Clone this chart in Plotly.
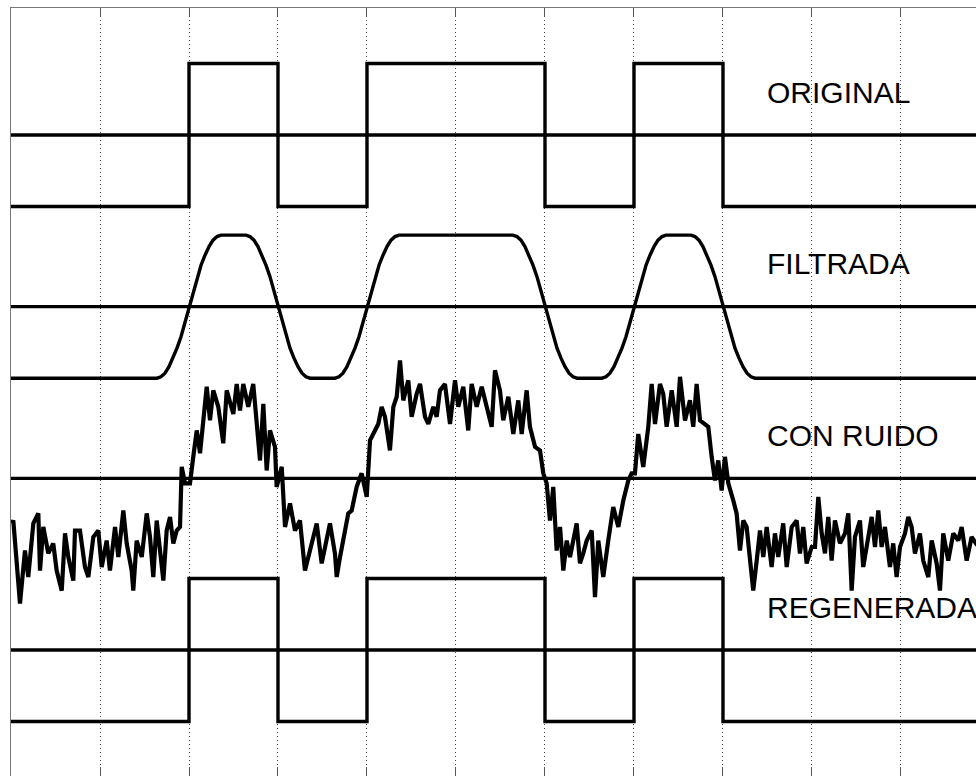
import plotly.graph_objects as go

# Transmitted bit sequence (one bit per grid division)
bits = [0, 0, 1, 0, 1, 1, 0, 1, 0, 0, 0]
regen_bits = [0, 0, 1, 0, 1, 1, 0, 1, 0, 0, 0]

# Vertical offsets of the four stacked traces
base_original = 3.6
base_filtered = 1.2
base_noisy = -1.2
base_regen = -3.6

labels = ["ORIGINAL", "FILTRADA", "CON RUIDO", "REGENERADA"]
label_x = 8.47
label_dy = 0.6

# Shape of one filtered transition: time offset from the bit edge (in bits)
# and fraction of the swing completed
edge_dt = [-0.36, -0.315, -0.27, -0.225, -0.18, -0.135, -0.09, -0.045, 0.0,
           0.045, 0.09, 0.135, 0.18, 0.225, 0.27, 0.315, 0.36]
edge_p = [0.0, 0.01, 0.035, 0.08, 0.14, 0.21, 0.29, 0.39, 0.5,
          0.61, 0.71, 0.79, 0.86, 0.92, 0.965, 0.99, 1.0]

# Received (noisy) signal, relative to its baseline: time in bits, amplitude
noisy_t = [
    0.008, 0.026, 0.101, 0.157, 0.194, 0.251, 0.307, 0.326, 0.363, 0.419,
    0.475, 0.513, 0.570, 0.607, 0.644, 0.700, 0.719, 0.775, 0.831, 0.869,
    0.925, 0.981, 1.019, 1.075, 1.112, 1.169, 1.206, 1.262, 1.300, 1.356,
    1.374, 1.412, 1.469, 1.525, 1.562, 1.599, 1.637, 1.674, 1.712, 1.749,
    1.787, 1.824, 1.862, 1.899, 1.918, 1.955, 2.011, 2.048, 2.087, 2.124,
    2.161, 2.199, 2.236, 2.273, 2.329, 2.385, 2.424, 2.498, 2.536, 2.573,
    2.610, 2.666, 2.722, 2.761, 2.798, 2.835, 2.873, 2.910, 2.966, 2.985,
    3.042, 3.079, 3.135, 3.191, 3.247, 3.303, 3.360, 3.435, 3.491, 3.547,
    3.584, 3.640, 3.660, 3.697, 3.753, 3.790, 3.828, 3.884, 3.940, 3.997,
    4.034, 4.071, 4.127, 4.165, 4.202, 4.258, 4.296, 4.334, 4.371, 4.408,
    4.464, 4.502, 4.558, 4.596, 4.652, 4.689, 4.745, 4.783, 4.820, 4.876,
    4.933, 4.989, 5.026, 5.082, 5.138, 5.176, 5.233, 5.289, 5.345, 5.401,
    5.438, 5.494, 5.531, 5.588, 5.644, 5.700, 5.738, 5.794, 5.831, 5.888,
    5.944, 5.981, 6.019, 6.056, 6.093, 6.131, 6.169, 6.206, 6.244, 6.281,
    6.356, 6.393, 6.430, 6.469, 6.525, 6.562, 6.599, 6.655, 6.711, 6.767,
    6.824, 6.880, 6.936, 6.974, 7.011, 7.048, 7.104, 7.161, 7.199, 7.236,
    7.292, 7.329, 7.367, 7.424, 7.480, 7.517, 7.573, 7.629, 7.666, 7.704,
    7.742, 7.798, 7.835, 7.873, 7.910, 7.947, 7.985, 8.022, 8.060, 8.116,
    8.153, 8.191, 8.228, 8.266, 8.303, 8.340, 8.379, 8.416, 8.453, 8.491,
    8.547, 8.584, 8.621, 8.677, 8.716, 8.772, 8.828, 8.865, 8.902, 8.940,
    8.997, 9.034, 9.071, 9.109, 9.146, 9.183, 9.221, 9.258, 9.315, 9.371,
    9.408, 9.446, 9.483, 9.539, 9.576, 9.633, 9.671, 9.708, 9.745, 9.783,
    9.820, 9.876, 9.913, 9.951, 9.989, 10.045, 10.082, 10.120, 10.157, 10.213,
    10.250, 10.307, 10.345, 10.401, 10.438, 10.475, 10.531, 10.588, 10.644, 10.682,
    10.738, 10.794, 10.843, 10.900,
]
noisy_v = [
    -0.63, -0.59, -1.75, -1.01, -1.38, -0.63, -0.49, -1.29, -0.68, -1.05,
    -0.91, -1.29, -1.57, -0.77, -1.10, -1.43, -0.73, -0.73, -1.24, -1.38,
    -0.82, -0.73, -1.24, -0.87, -1.29, -0.68, -1.10, -0.45, -0.91, -1.29,
    -1.57, -0.87, -1.10, -0.49, -0.82, -1.38, -0.59, -1.05, -1.43, -0.73,
    -0.54, -0.91, -0.73, -0.68, 0.16, -0.07, -0.07, 0.30, 0.67, 0.35,
    0.81, 1.28, 0.81, 1.23, 1.00, 0.49, 1.23, 0.90, 1.32, 0.95,
    1.32, 1.00, 1.32, 0.81, 0.25, 1.04, 0.11, 0.67, 0.44, -0.12,
    0.16, -0.68, -0.35, -0.73, -0.59, -1.29, -1.01, -0.63, -1.19, -0.82,
    -0.63, -1.05, -1.38, -1.10, -0.68, -0.49, -0.45, -0.12, 0.07, -0.26,
    0.53, 0.62, 0.76, 1.00, 0.86, 0.39, 1.00, 1.14, 1.65, 1.09,
    1.37, 0.86, 1.18, 1.32, 0.86, 0.76, 1.00, 0.86, 1.23, 1.32,
    0.76, 1.37, 1.00, 1.28, 0.67, 1.32, 1.00, 1.28, 1.00, 0.72,
    1.51, 1.23, 0.81, 1.14, 0.62, 1.09, 0.62, 1.23, 0.72, 0.44,
    0.39, 0.07, -0.07, -0.59, -0.12, -1.01, -0.68, -1.29, -0.87, -1.10,
    -0.63, -1.19, -1.05, -0.87, -0.73, -1.66, -0.87, -1.38, -0.87, -0.40,
    -0.68, -0.31, -0.03, 0.07, 0.07, 0.62, 0.16, 0.72, 1.32, 0.76,
    1.32, 1.18, 0.72, 1.23, 0.72, 1.42, 0.81, 1.09, 0.72, 1.32,
    0.81, 0.76, 0.72, 0.30, -0.03, 0.25, -0.17, 0.30, -0.07, -0.31,
    -0.49, -1.01, -0.59, -0.68, -1.15, -1.57, -1.15, -0.73, -1.10, -0.68,
    -1.24, -0.77, -1.10, -0.63, -1.24, -0.68, -0.59, -1.05, -0.68, -1.19,
    -0.96, -0.96, -0.26, -0.77, -1.05, -0.54, -1.15, -0.59, -0.91, -0.77,
    -0.49, -1.57, -0.82, -0.59, -1.24, -0.77, -0.54, -0.96, -0.45, -0.96,
    -0.68, -1.24, -0.91, -1.38, -0.96, -0.77, -0.54, -0.68, -1.05, -0.77,
    -1.15, -1.38, -0.87, -1.19, -1.57, -0.77, -1.15, -0.77, -0.87, -0.68,
    -1.15, -0.82, -0.91, -0.85,
]

LINE_W = 3.4
NOISY_W = 4.2


def level(b):
    return 1.0 if b else -1.0


def square_wave(bs, base):
    xs = list(range(len(bs) + 1))
    ys = [base + level(b) for b in bs] + [base + level(bs[-1])]
    return xs, ys


def filtered_wave(bs, base):
    xs = [0.0]
    ys = [base + level(bs[0])]
    for i in range(1, len(bs)):
        if bs[i] != bs[i - 1]:
            a, b = level(bs[i - 1]), level(bs[i])
            for dt, p in zip(edge_dt, edge_p):
                xs.append(i + dt)
                ys.append(base + a + (b - a) * p)
    xs.append(float(len(bs)))
    ys.append(base + level(bs[-1]))
    return xs, ys


n_bits = len(bits)
x_max = 10.843

fig = go.Figure()

line = dict(color="black", width=LINE_W)

# Zero reference line for each trace
for base in [base_original, base_filtered, base_noisy, base_regen]:
    fig.add_trace(go.Scatter(x=[0, n_bits], y=[base, base], mode="lines",
                             line=line, hoverinfo="skip"))

xo, yo = square_wave(bits, base_original)
fig.add_trace(go.Scatter(x=xo, y=yo, mode="lines", line=dict(line, shape="hv")))

xf, yf = filtered_wave(bits, base_filtered)
fig.add_trace(go.Scatter(x=xf, y=yf, mode="lines", line=line))

fig.add_trace(go.Scatter(x=noisy_t, y=[base_noisy + v for v in noisy_v],
                         mode="lines", line=dict(color="black", width=NOISY_W)))

xr, yr = square_wave(regen_bits, base_regen)
fig.add_trace(go.Scatter(x=xr, y=yr, mode="lines", line=dict(line, shape="hv")))

for text, base in zip(labels, [base_original, base_filtered, base_noisy, base_regen]):
    fig.add_annotation(x=label_x, y=base + label_dy, text=text, showarrow=False,
                       xanchor="left", yanchor="middle",
                       font=dict(family="Liberation Sans, Arial, sans-serif",
                                 size=30, color="black"))

fig.update_layout(
    width=976, height=776, autosize=False,
    margin=dict(l=11, r=0, t=8, b=0, pad=0),
    paper_bgcolor="white", plot_bgcolor="white",
    showlegend=False,
)
fig.update_xaxes(
    range=[0, x_max], dtick=1, tick0=0,
    showgrid=True, gridcolor="#444444", gridwidth=1, griddash="1px,3px",
    ticks="inside", ticklen=9, tickwidth=1, tickcolor="#555555",
    showticklabels=False, zeroline=False,
    showline=True, linecolor="#777777", linewidth=1, mirror="ticks",
)
fig.update_yaxes(
    range=[-5.362, 5.376], showgrid=False, showticklabels=False, ticks="",
    zeroline=False, showline=True, linecolor="#777777", linewidth=1,
)

fig.write_html("out.html", config={"displayModeBar": False})
